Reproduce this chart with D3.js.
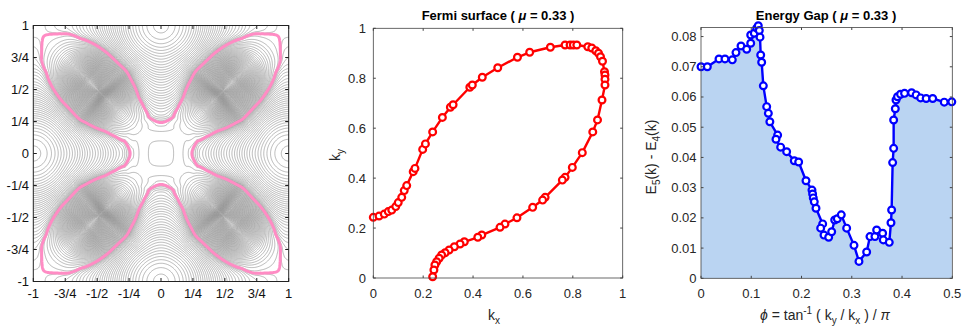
<!DOCTYPE html>
<html>
<head>
<meta charset="utf-8">
<script src="https://cdn.jsdelivr.net/npm/d3@7"></script>
<style>
  body { margin: 0; background: #fff; }
  svg { display: block; font-family: "Liberation Sans", Arial, Helvetica, sans-serif; }
</style>
</head>
<body>
<svg id="chart" width="963" height="328"></svg>
<script>
// ---------- data ----------
const quarterTicks  = [-1, -0.75, -0.5, -0.25, 0, 0.25, 0.5, 0.75, 1];
const quarterLabels = ["-1", "-3/4", "-1/2", "-1/4", "0", "1/4", "1/2", "3/4", "1"];

// left map: E(k) = (c1 - c2)^2 - W(s), c = cos(pi k), s = (c1 + c2) / 2
// W knots (E = mu on the pink line)
const bandS = [-1.0, -0.99, -0.98, -0.97, -0.96, -0.95, -0.93, -0.90, -0.86, -0.80,
  -0.74, -0.67, -0.59, -0.44, -0.31, -0.2, 0.0, 0.12, 0.24, 0.36,
  0.45, 0.53, 0.66, 0.69, 0.77, 0.79, 0.84, 0.86, 0.89, 0.95, 1.0];
const bandW = [-0.0024, -0.0012, -0.0008, -0.0004, 0.0008, 0.0028, 0.0092, 0.0248, 0.0568, 0.125,
  0.205, 0.31, 0.465, 0.765, 0.99, 1.12, 1.21, 1.18, 0.98, 0.76,
  0.58, 0.43, 0.25, 0.215, 0.13, 0.11, 0.087, 0.077, 0.062, 0.07, 0.085];
const fermiLevel = 0;
const centerStep = 0.03;  // contour spacing near k = 0
const innerCount = 68;    // contours inside the petals (even in distance from the bottom)
const outerStep = 0.05;   // contour spacing above mu (in sqrt(E - mu))

// Fermi surface, first quadrant, in path order
const fermiKx = [0.000, 0.023, 0.044, 0.060, 0.074, 0.090, 0.100, 0.114, 0.124, 0.134,
  0.160, 0.167, 0.198, 0.209, 0.238, 0.277, 0.309, 0.320, 0.387, 0.397,
  0.437, 0.499, 0.578, 0.627, 0.710, 0.769, 0.789, 0.802, 0.816, 0.860,
  0.876, 0.892, 0.903, 0.911, 0.919, 0.927, 0.929, 0.929, 0.929, 0.917,
  0.899, 0.880, 0.838, 0.798, 0.769, 0.758, 0.689, 0.679, 0.639, 0.576,
  0.528, 0.508, 0.435, 0.419, 0.365, 0.348, 0.325, 0.304, 0.288, 0.274,
  0.264, 0.254, 0.247, 0.243, 0.238];
const fermiKy = [0.243, 0.248, 0.256, 0.266, 0.272, 0.286, 0.302, 0.323, 0.350, 0.370,
  0.426, 0.439, 0.515, 0.537, 0.585, 0.643, 0.684, 0.694, 0.764, 0.773,
  0.804, 0.842, 0.884, 0.904, 0.924, 0.933, 0.933, 0.933, 0.933, 0.926,
  0.921, 0.910, 0.900, 0.886, 0.868, 0.826, 0.813, 0.796, 0.773, 0.713,
  0.633, 0.585, 0.502, 0.443, 0.403, 0.392, 0.323, 0.312, 0.283, 0.241,
  0.216, 0.203, 0.172, 0.163, 0.145, 0.136, 0.125, 0.112, 0.101, 0.092,
  0.079, 0.065, 0.052, 0.032, 0.005];
const fermiTicks = [0, 0.2, 0.4, 0.6, 0.8, 1];

// energy gap along the Fermi surface
const gapPhi = [0, 0.0126, 0.0358, 0.0477, 0.0623, 0.0696, 0.0796, 0.0909, 0.0989, 0.0989,
  0.106, 0.1108, 0.114, 0.116, 0.1174, 0.1188, 0.1207, 0.124, 0.1307, 0.134,
  0.137, 0.1525, 0.1492, 0.1585, 0.1704, 0.1856, 0.1943, 0.2089, 0.2208, 0.2221,
  0.2234, 0.2254, 0.2288, 0.2421, 0.2381, 0.2447, 0.2540, 0.2600, 0.2660, 0.2712,
  0.2791, 0.2898, 0.3044, 0.3143, 0.3296, 0.3362, 0.3461, 0.3495, 0.3614, 0.3627,
  0.3746, 0.3780, 0.3793, 0.3813, 0.3833, 0.3833, 0.3866, 0.388, 0.391, 0.397,
  0.405, 0.419, 0.428, 0.437, 0.448, 0.461, 0.484, 0.499];
const gapValue = [0.0700, 0.0700, 0.0726, 0.0726, 0.0723, 0.0747, 0.0769, 0.0758, 0.0778, 0.0805,
  0.0811, 0.0828, 0.0836, 0.0820, 0.0798, 0.0739, 0.0715, 0.0637, 0.0568, 0.0546,
  0.0518, 0.0474, 0.0460, 0.0434, 0.0419, 0.0389, 0.0385, 0.0323, 0.0292, 0.0279,
  0.0266, 0.0253, 0.0232, 0.0180, 0.0166, 0.0143, 0.0136, 0.0154, 0.0193, 0.0197,
  0.0210, 0.0166, 0.0109, 0.0056, 0.0087, 0.0138, 0.0138, 0.0160, 0.0149, 0.0127,
  0.0119, 0.0184, 0.0226, 0.0383, 0.0430, 0.0524, 0.0561, 0.0590, 0.0601, 0.0609,
  0.0612, 0.0614, 0.0607, 0.0597, 0.0595, 0.0595, 0.0583, 0.0584];
const gapXTicks = [0, 0.1, 0.2, 0.3, 0.4, 0.5];
const gapYTicks = [0, 0.01, 0.02, 0.03, 0.04, 0.05, 0.06, 0.07, 0.08];

// ---------- setup ----------
const svg = d3.select("#chart");
const textColor = "#262626";

// cubic hermite through the W knots
function knotCurve(xs, ys) {
  const m = xs.map((x, i) => {
    const a = Math.max(i - 1, 0), b = Math.min(i + 1, xs.length - 1);
    return (ys[b] - ys[a]) / (xs[b] - xs[a]);
  });
  return s => {
    let i = d3.bisectRight(xs, s) - 1;
    i = Math.max(0, Math.min(xs.length - 2, i));
    const h = xs[i + 1] - xs[i], t = (s - xs[i]) / h;
    const t2 = t * t, t3 = t2 * t;
    return (2 * t3 - 3 * t2 + 1) * ys[i] + (t3 - 2 * t2 + t) * h * m[i]
      + (-2 * t3 + 3 * t2) * ys[i + 1] + (t3 - t2) * h * m[i + 1];
  };
}
const W = knotCurve(bandS, bandW);

function band(kx, ky) {
  const c1 = Math.cos(Math.PI * kx), c2 = Math.cos(Math.PI * ky);
  const d = c1 - c2;
  return d * d - W((c1 + c2) / 2);
}

function boxFrame(g, x, y, color, width) {
  g.append("rect")
    .attr("x", x.range()[0]).attr("y", y.range()[1])
    .attr("width", x.range()[1] - x.range()[0])
    .attr("height", y.range()[0] - y.range()[1])
    .attr("fill", "none").attr("stroke", color).attr("stroke-width", width);
}

function inwardTicks(g, x, y, xt, yt, len, color) {
  const [x0, x1] = x.range(), [y0, y1] = y.range();
  xt.forEach(t => {
    g.append("line").attr("x1", x(t)).attr("x2", x(t)).attr("y1", y0).attr("y2", y0 - len)
      .attr("stroke", color);
    g.append("line").attr("x1", x(t)).attr("x2", x(t)).attr("y1", y1).attr("y2", y1 + len)
      .attr("stroke", color);
  });
  yt.forEach(t => {
    g.append("line").attr("y1", y(t)).attr("y2", y(t)).attr("x1", x0).attr("x2", x0 + len)
      .attr("stroke", color);
    g.append("line").attr("y1", y(t)).attr("y2", y(t)).attr("x1", x1).attr("x2", x1 - len)
      .attr("stroke", color);
  });
}

// ---------- left: contour map ----------
{
  const x = d3.scaleLinear().domain([-1, 1]).range([33.3, 288.7]);
  const y = d3.scaleLinear().domain([-1, 1]).range([281.5, 25.5]);
  const g = svg.append("g");

  g.append("clipPath").attr("id", "clipL").append("rect")
    .attr("x", x(-1)).attr("y", y(1)).attr("width", x(1) - x(-1)).attr("height", y(-1) - y(1));

  const n = 361, lo = -1.03, hi = 1.03, step = (hi - lo) / (n - 1);
  const values = new Float64Array(n * n);
  for (let j = 0; j < n; j++) {
    for (let i = 0; i < n; i++) {
      values[j * n + i] = band(lo + i * step, hi - j * step);
    }
  }
  const [vmin, vmax] = d3.extent(values);
  const depth = fermiLevel - vmin;
  // near mu keep a plain step, deeper in the petals space them evenly in distance
  const cut = fermiLevel - 0.09;
  const shallow = d3.range(fermiLevel - centerStep / 2, cut, -centerStep);
  const deep = d3.range(1, innerCount)
    .map(k => vmin + depth * Math.pow(k / innerCount, 2))
    .filter(v => v < cut - 0.01);
  const outer = d3.range(outerStep, Math.sqrt(vmax - fermiLevel), outerStep)
    .map(v => fermiLevel + v * v);
  const levels = deep.concat(shallow, outer).sort((a, b) => a - b);

  const proj = d3.geoTransform({
    point(px, py) {
      this.stream.point(x(lo + (px - 0.5) * step), y(hi - (py - 0.5) * step));
    }
  });
  const path = d3.geoPath(proj);
  const contours = d3.contours().size([n, n]);

  const plot = g.append("g").attr("clip-path", "url(#clipL)");
  plot.selectAll("path.iso")
    .data(contours.thresholds(levels)(values))
    .join("path")
    .attr("class", "iso")
    .attr("d", path)
    .attr("fill", "none")
    .attr("stroke", "#8a8a8a")
    .attr("stroke-width", 0.6);

  plot.selectAll("path.fermi")
    .data(contours.thresholds([fermiLevel])(values))
    .join("path")
    .attr("class", "fermi")
    .attr("d", path)
    .attr("fill", "none")
    .attr("stroke", "#ff8cc4")
    .attr("stroke-width", 3);

  boxFrame(g, x, y, "#222", 1);
  inwardTicks(g, x, y, quarterTicks, quarterTicks, 3.5, "#222");

  g.selectAll("text.xt").data(quarterTicks).join("text")
    .attr("x", d => x(d)).attr("y", 297.5)
    .attr("text-anchor", "middle").attr("font-size", 13).attr("fill", "#111")
    .text((d, i) => quarterLabels[i]);
  g.selectAll("text.yt").data(quarterTicks).join("text")
    .attr("x", 29).attr("y", d => y(d) + 4.5)
    .attr("text-anchor", "end").attr("font-size", 13).attr("fill", "#111")
    .text((d, i) => quarterLabels[i]);
}

// ---------- middle: Fermi surface ----------
{
  const x = d3.scaleLinear().domain([0, 1]).range([373.3, 622.7]);
  const y = d3.scaleLinear().domain([0, 1]).range([278, 28.3]);
  const g = svg.append("g");
  const pts = fermiKx.map((d, i) => [d, fermiKy[i]]);

  g.append("path")
    .datum(pts)
    .attr("d", d3.line().x(d => x(d[0])).y(d => y(d[1])))
    .attr("fill", "none").attr("stroke", "#ff0000").attr("stroke-width", 2.4)
    .attr("stroke-linejoin", "round");

  g.selectAll("circle").data(pts).join("circle")
    .attr("cx", d => x(d[0])).attr("cy", d => y(d[1])).attr("r", 3.4)
    .attr("fill", "#fff").attr("stroke", "#ff0000").attr("stroke-width", 2.2);

  boxFrame(g, x, y, "#444", 0.8);
  inwardTicks(g, x, y, fermiTicks, fermiTicks, 2.5, "#444");

  g.selectAll("text.xt").data(fermiTicks).join("text")
    .attr("x", d => x(d)).attr("y", 297.5)
    .attr("text-anchor", "middle").attr("font-size", 13).attr("fill", textColor)
    .text(d => d3.format("~g")(d));
  g.selectAll("text.yt").data(fermiTicks).join("text")
    .attr("x", 366).attr("y", d => y(d) + 4.5)
    .attr("text-anchor", "end").attr("font-size", 13).attr("fill", textColor)
    .text(d => d3.format("~g")(d));

  const title = g.append("text").attr("x", 498).attr("y", 20)
    .attr("text-anchor", "middle").attr("font-size", 13).attr("font-weight", "bold").attr("fill", "#000");
  title.append("tspan").text("Fermi surface ( ");
  title.append("tspan").attr("font-style", "italic").text("μ");
  title.append("tspan").text(" = 0.33 )");

  const xl = g.append("text").attr("x", 494).attr("y", 320)
    .attr("text-anchor", "middle").attr("font-size", 14).attr("fill", textColor);
  xl.append("tspan").text("k");
  xl.append("tspan").attr("font-size", 10).attr("dy", 4).text("x");

  const yl = g.append("text").attr("transform", "translate(340,155) rotate(-90)")
    .attr("text-anchor", "middle").attr("font-size", 14).attr("fill", textColor);
  yl.append("tspan").text("k");
  yl.append("tspan").attr("font-size", 10).attr("dy", 4).text("y");
}

// ---------- right: energy gap ----------
{
  const x = d3.scaleLinear().domain([0, 0.5]).range([701, 952.3]);
  const y = d3.scaleLinear().domain([0, 0.083]).range([278.3, 27.5]);
  const g = svg.append("g");
  const pts = gapPhi.map((d, i) => [d, gapValue[i]]);

  g.append("path")
    .datum(pts)
    .attr("d", d3.area().x(d => x(d[0])).y0(y(0)).y1(d => y(d[1])))
    .attr("fill", "#bad4f2");

  g.append("path")
    .datum(pts)
    .attr("d", d3.line().x(d => x(d[0])).y(d => y(d[1])))
    .attr("fill", "none").attr("stroke", "#0000ff").attr("stroke-width", 2.4)
    .attr("stroke-linejoin", "round");

  g.selectAll("circle").data(pts).join("circle")
    .attr("cx", d => x(d[0])).attr("cy", d => y(d[1])).attr("r", 3.4)
    .attr("fill", "#fff").attr("stroke", "#0000ff").attr("stroke-width", 2.2);

  boxFrame(g, x, y, "#444", 0.8);
  inwardTicks(g, x, y, gapXTicks, gapYTicks, 2.5, "#444");

  g.selectAll("text.xt").data(gapXTicks).join("text")
    .attr("x", d => x(d)).attr("y", 297.5)
    .attr("text-anchor", "middle").attr("font-size", 13).attr("fill", textColor)
    .text(d => d3.format("~g")(d));
  g.selectAll("text.yt").data(gapYTicks).join("text")
    .attr("x", 696.5).attr("y", d => y(d) + 4.5)
    .attr("text-anchor", "end").attr("font-size", 13).attr("fill", textColor)
    .text(d => d3.format("~g")(d));

  const title = g.append("text").attr("x", 826).attr("y", 20)
    .attr("text-anchor", "middle").attr("font-size", 13).attr("font-weight", "bold").attr("fill", "#000");
  title.append("tspan").text("Energy Gap ( ");
  title.append("tspan").attr("font-style", "italic").text("μ");
  title.append("tspan").text(" = 0.33 )");

  const xl = g.append("text").attr("x", 825).attr("y", 320)
    .attr("text-anchor", "middle").attr("font-size", 14).attr("fill", textColor);
  xl.append("tspan").attr("font-style", "italic").text("ϕ");
  xl.append("tspan").text(" = tan");
  xl.append("tspan").attr("font-size", 10).attr("dy", -6).text("-1");
  xl.append("tspan").attr("dy", 6).text(" ( k");
  xl.append("tspan").attr("font-size", 10).attr("dy", 4).text("y");
  xl.append("tspan").attr("dy", -4).text(" / k");
  xl.append("tspan").attr("font-size", 10).attr("dy", 4).text("x");
  xl.append("tspan").attr("dy", -4).text(" ) / ");
  xl.append("tspan").attr("font-style", "italic").text("π");

  const yl = g.append("text").attr("transform", "translate(656,157) rotate(-90)")
    .attr("text-anchor", "middle").attr("font-size", 14).attr("fill", textColor);
  yl.append("tspan").text("E");
  yl.append("tspan").attr("font-size", 10).attr("dy", 4).text("5");
  yl.append("tspan").attr("dy", -4).text("(k) - E");
  yl.append("tspan").attr("font-size", 10).attr("dy", 4).text("4");
  yl.append("tspan").attr("dy", -4).text("(k)");
}
</script>
</body>
</html>
